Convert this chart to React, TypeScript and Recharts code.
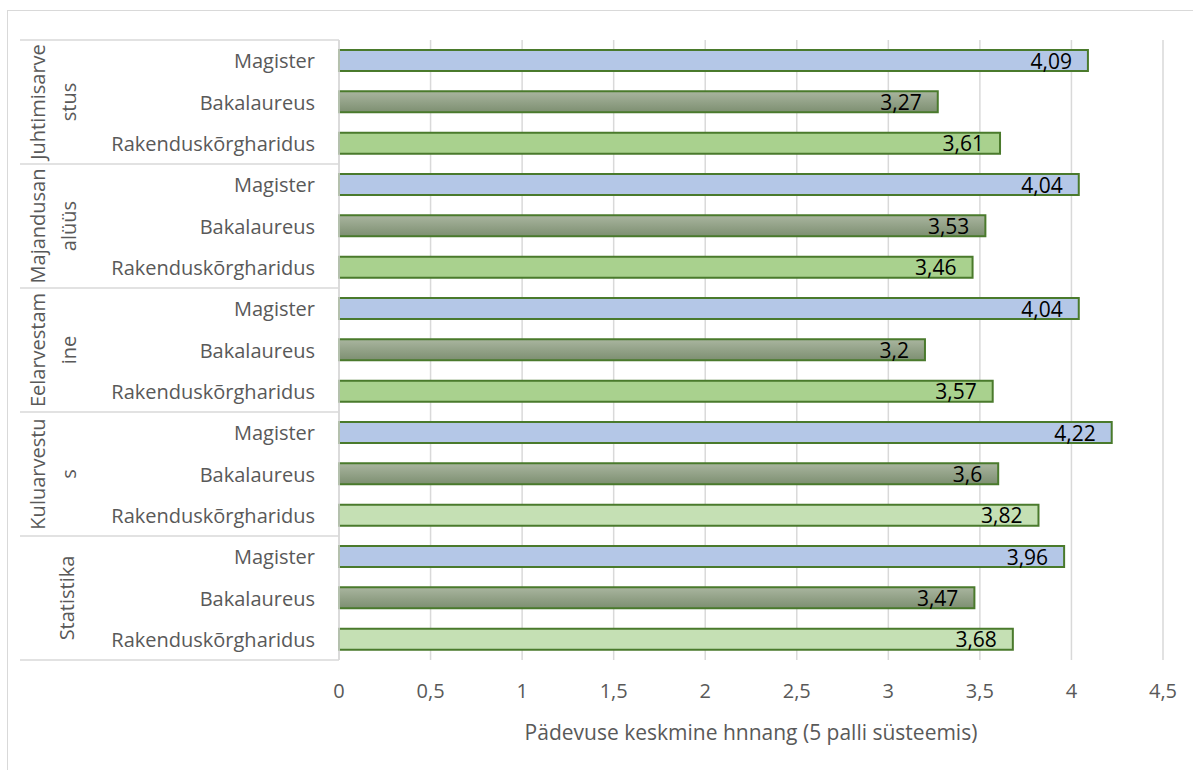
import React from "react";
import {
  BarChart,
  Bar,
  XAxis,
  YAxis,
  CartesianGrid,
  LabelList,
  Cell,
} from "recharts";

// ---- data ----
const groupLines = [
  ["Juhtimisarve", "stus"],
  ["Majandusan", "alüüs"],
  ["Eelarvestam", "ine"],
  ["Kuluarvestu", "s"],
  ["Statistika"],
];
const levels = ["Magister", "Bakalaureus", "Rakenduskõrgharidus"];
const magister = [4.09, 4.04, 4.04, 4.22, 3.96];
const bakalaureus = [3.27, 3.53, 3.2, 3.6, 3.47];
const rakendus = [3.61, 3.46, 3.57, 3.82, 3.68];
const xTicks = [0, 0.5, 1, 1.5, 2, 2.5, 3, 3.5, 4, 4.5];
const axisTitle = "Pädevuse keskmine hnnang (5 palli süsteemis)";

// ---- styles ----
const FONT = "'Open Sans', sans-serif";
const GRAY = "#595959";
const LINE = "#d9d9d9";
const BORDER = "#4a7a2c";
const rakendusColors = ["#A9D18E", "#A9D18E", "#A9D18E", "#C5E0B4", "#C5E0B4"];

const W = 1193;
const H = 770;
const MARGIN = { top: 40, right: 30, left: 0, bottom: 50 };
const X_AXIS_H = 60;
const Y_AXIS_W = 339;

const series = [magister, bakalaureus, rakendus];
const rows = groupLines.flatMap((_, gi) =>
  levels.map((level, li) => ({
    id: `${gi}-${li}`,
    group: gi,
    levelIndex: li,
    level,
    value: series[li][gi],
  }))
);

const band = (H - MARGIN.top - MARGIN.bottom - X_AXIS_H) / rows.length;

const fillFor = (r: { group: number; levelIndex: number }) => {
  if (r.levelIndex === 0) return "#B4C7E7";
  if (r.levelIndex === 1) return "url(#bakGrad)";
  return rakendusColors[r.group];
};

const CategoryTick = (props: any) => {
  const { y, index } = props;
  const row = rows[index];
  if (!row) return null;
  const lines = groupLines[row.group];
  const isLastGroup = row.group === groupLines.length - 1;
  return (
    <g>
      <text
        x={315}
        y={y}
        textAnchor="end"
        dominantBaseline="central"
        fill={GRAY}
        fontSize={20}
        fontFamily={FONT}
      >
        {row.level}
      </text>
      {row.levelIndex === 0 && (
        <line x1={20} x2={Y_AXIS_W} y1={y - band / 2} y2={y - band / 2} stroke={LINE} strokeWidth={1.5} />
      )}
      {isLastGroup && row.levelIndex === 2 && (
        <line x1={20} x2={Y_AXIS_W} y1={y + band / 2} y2={y + band / 2} stroke={LINE} strokeWidth={1.5} />
      )}
      {row.levelIndex === 1 &&
        lines.map((t, i) => {
          const cx = lines.length === 1 ? 66 : i === 0 ? 37 : 68;
          return (
            <text
              key={t}
              x={cx}
              y={y}
              transform={`rotate(-90 ${cx} ${y})`}
              textAnchor="middle"
              dominantBaseline="central"
              fill={GRAY}
              fontSize={20}
              fontFamily={FONT}
            >
              {t}
            </text>
          );
        })}
    </g>
  );
};

const ValueLabel = (props: any) => {
  const { x, y, width, height, value } = props;
  return (
    <text
      x={x + width - 16}
      y={y + height / 2}
      textAnchor="end"
      dominantBaseline="central"
      fill="#000"
      fontSize={21}
      fontFamily={FONT}
    >
      {String(value).replace(".", ",")}
    </text>
  );
};

export default function App() {
  return (
    <div style={{ position: "absolute", left: 0, top: 0, width: W, height: H, background: "#fff", overflow: "hidden" }}>
      <div
        style={{
          position: "absolute",
          left: 7,
          top: 10,
          width: W,
          height: H,
          borderLeft: `1.5px solid ${LINE}`,
          borderTop: `1.5px solid ${LINE}`,
        }}
      />
      <BarChart
        width={W}
        height={H}
        data={rows}
        layout="vertical"
        margin={MARGIN}
        barCategoryGap={0}
        style={{ position: "absolute", left: 0, top: 0 }}
      >
        <defs>
          <linearGradient id="bakGrad" x1="0" y1="0" x2="0" y2="1">
            <stop offset="0%" stopColor="#a9b59f" />
            <stop offset="100%" stopColor="#7d8f71" />
          </linearGradient>
        </defs>
        <CartesianGrid horizontal={false} stroke={LINE} strokeWidth={1.5} />
        <XAxis
          type="number"
          domain={[0, 4.5]}
          ticks={xTicks}
          tickFormatter={(v: number) => String(v).replace(".", ",")}
          axisLine={false}
          tickLine={false}
          tickMargin={18}
          height={X_AXIS_H}
          tick={{ fill: GRAY, fontSize: 20, fontFamily: FONT }}
          label={{
            value: axisTitle,
            position: "insideBottom",
            offset: -20,
            fill: GRAY,
            fontSize: 21,
            fontFamily: FONT,
          }}
        />
        <YAxis
          type="category"
          dataKey="id"
          width={Y_AXIS_W}
          interval={0}
          tickLine={false}
          axisLine={{ stroke: LINE, strokeWidth: 1.5 }}
          tick={<CategoryTick />}
        />
        <Bar
          dataKey="value"
          barSize={21}
          stroke={BORDER}
          strokeWidth={2}
          isAnimationActive={false}
        >
          {rows.map((r) => (
            <Cell key={r.id} fill={fillFor(r)} />
          ))}
          <LabelList dataKey="value" content={<ValueLabel />} />
        </Bar>
      </BarChart>
    </div>
  );
}
